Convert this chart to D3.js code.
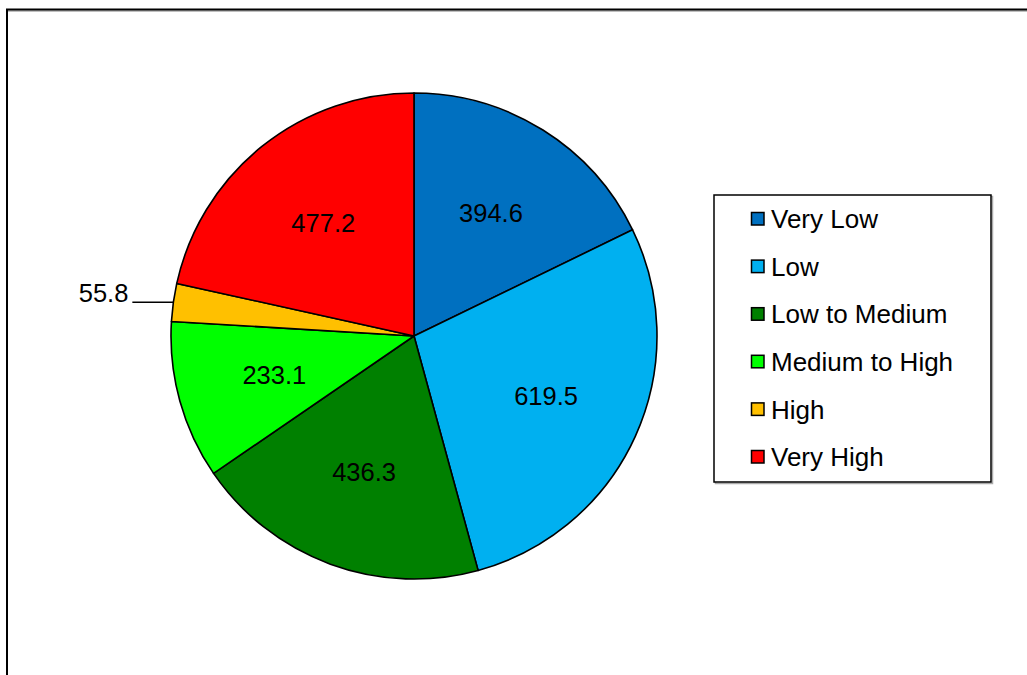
<!DOCTYPE html>
<html>
<head>
<meta charset="utf-8">
<script src="https://cdn.jsdelivr.net/npm/d3@7"></script>
<style>
  body { margin:0; background:#fff; }
  text { font-family: "Liberation Sans", Arial, sans-serif; }
</style>
</head>
<body>
<svg id="chart"></svg>
<script>
var categories = ["Very Low", "Low", "Low to Medium", "Medium to High", "High", "Very High"];
var values = [394.6, 619.5, 436.3, 233.1, 55.8, 477.2];
var colours = ["#0070C0", "#00B0F0", "#008000", "#00FF00", "#FFC000", "#FF0000"];

var width = 1027, height = 675;
var svg = d3.select("#chart").attr("width", width).attr("height", height);

// outer frame (runs off right and bottom)
svg.append("line").attr("x1", 8).attr("y1", 11).attr("x2", width).attr("y2", 11)
  .attr("stroke", "#aaa").attr("stroke-width", 1.5);
svg.append("rect").attr("x", 7).attr("y", 9.5).attr("width", width + 20).attr("height", height + 20)
  .attr("fill", "none").attr("stroke", "#000").attr("stroke-width", 2);

var cx = 414, cy = 336, r = 243;
var data = categories.map(function(c, i) { return {name: c, value: values[i], colour: colours[i]}; });
var total = d3.sum(values);

var pie = d3.pie().sort(null).value(function(d) { return d.value; });
var arc = d3.arc().innerRadius(0).outerRadius(r);
var labelArc = d3.arc().innerRadius(145).outerRadius(145);
var edgeArc = d3.arc().innerRadius(r).outerRadius(r);

var g = svg.append("g").attr("transform", "translate(" + cx + "," + cy + ")");
var arcs = pie(data);

g.selectAll("path").data(arcs).enter().append("path")
  .attr("d", arc)
  .attr("fill", function(d) { return d.data.colour; })
  .attr("stroke", "#000").attr("stroke-width", 1.6).attr("stroke-linejoin", "round");

arcs.forEach(function(d) {
  if (d.data.value / total > 0.05) {
    var c = labelArc.centroid(d);
    g.append("text").attr("x", c[0]).attr("y", c[1]).attr("dy", "0.35em")
      .attr("text-anchor", "middle").attr("font-size", 25.5).text(d.data.value.toFixed(1));
  } else {
    var p = edgeArc.centroid(d);
    var x2 = p[0] - 41;
    g.append("line").attr("x1", p[0]).attr("y1", p[1]).attr("x2", x2).attr("y2", p[1])
      .attr("stroke", "#000").attr("stroke-width", 1.5);
    g.append("text").attr("x", x2 - 4).attr("y", p[1]).attr("dy", "-0.02em")
      .attr("text-anchor", "end").attr("font-size", 25.5).text(d.data.value.toFixed(1));
  }
});

// legend
var lx = 714, ly = 195, lw = 277, lh = 287;
svg.append("rect").attr("x", lx + 1.5).attr("y", ly + 1.5).attr("width", lw).attr("height", lh)
  .attr("fill", "none").attr("stroke", "#aaa").attr("stroke-width", 1.5);
svg.append("rect").attr("x", lx).attr("y", ly).attr("width", lw).attr("height", lh)
  .attr("fill", "#fff").attr("stroke", "#000").attr("stroke-width", 1.5);

var rowY = d3.scalePoint().domain(categories).range([219, 457]);
var items = svg.append("g").selectAll("g").data(data).enter().append("g")
  .attr("transform", function(d) { return "translate(" + lx + "," + rowY(d.name) + ")"; });
items.append("rect").attr("x", 37.5).attr("y", -6.5).attr("width", 12.5).attr("height", 12.5)
  .attr("fill", function(d) { return d.colour; }).attr("stroke", "#000").attr("stroke-width", 1.5);
items.append("text").attr("x", 57).attr("dy", "0.35em").attr("font-size", 26)
  .text(function(d) { return d.name; });
</script>
</body>
</html>
